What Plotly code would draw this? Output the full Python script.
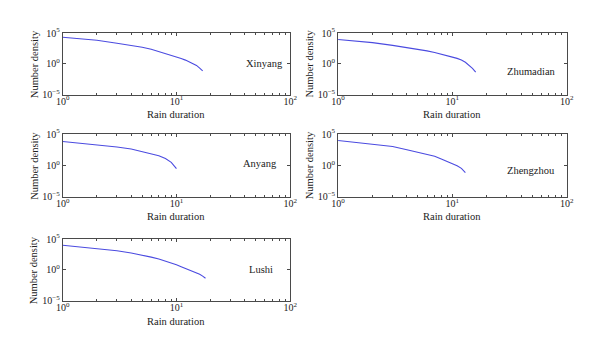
import plotly.graph_objects as go

stations = ["Xinyang", "Zhumadian", "Anyang", "Zhengzhou", "Lushi"]

xinyang_dur = list(range(1, 18))
xinyang_den = [20900, 6600, 2240, 1050, 480, 230, 100, 50, 25, 12.3, 7.1, 4.0, 2.04, 1.0, 0.56, 0.2, 0.071]

zhumadian_dur = list(range(1, 17))
zhumadian_den = [9100, 2750, 1000, 457, 224, 126, 71, 40, 22.4, 12.3, 7.6, 4.3, 1.78, 0.63, 0.18, 0.045]

anyang_dur = list(range(1, 11))
anyang_den = [6600, 2000, 890, 417, 158, 79, 35, 12.6, 3.2, 0.32]

zhengzhou_dur = list(range(1, 14))
zhengzhou_den = [9550, 2820, 1070, 316, 126, 54, 29, 11, 4.8, 2.04, 0.89, 0.34, 0.071]

lushi_dur = list(range(1, 19))
lushi_den = [10000, 3160, 1350, 575, 282, 120, 59, 29, 12.6, 6.8, 3.3, 1.8, 1.0, 0.55, 0.34, 0.2, 0.1, 0.045]

x_tickvals = [1, 10, 100]
x_ticktext = ["10<sup>0</sup>", "10<sup>1</sup>", "10<sup>2</sup>"]
y_tickvals = [1e-5, 1, 1e5]
y_ticktext = ["10<sup>\u22125</sup>", "10<sup>0</sup>", "10<sup>5</sup>"]
x_title = "Rain duration"
y_title = "Number density"

series = [
    (xinyang_dur, xinyang_den),
    (zhumadian_dur, zhumadian_den),
    (anyang_dur, anyang_den),
    (zhengzhou_dur, zhengzhou_den),
    (lushi_dur, lushi_den),
]

W, H = 600, 354
# pixel boxes: (left, right, top, bottom)
boxes = [
    (57, 290, 27, 91),
    (339, 573, 27, 91),
    (57, 290, 132, 197),
    (339, 573, 132, 197),
    (57, 290, 241, 305),
]
label_pos = [(1.77, 0.0), (1.69, -1.25), (1.73, 0.3), (1.69, -0.85), (1.745, 0.0)]

FONT = "Liberation Serif, Times New Roman, serif"
AX = "#4a4a4a"
TXT = "#222"

fig = go.Figure()
annotations = []
for i, ((d, v), (l, r, t, b), name, lp) in enumerate(zip(series, boxes, stations, label_pos)):
    n = "" if i == 0 else str(i + 1)
    xa, ya = "x" + n, "y" + n
    fig.add_trace(go.Scatter(x=d, y=v, mode="lines", xaxis=xa, yaxis=ya,
                             line=dict(color="#4b4be0", width=1.1), showlegend=False))
    common = dict(type="log", showline=True, linecolor=AX, linewidth=1, mirror="allticks",
                  ticks="inside", ticklen=3, tickcolor=AX, showgrid=False, zeroline=False,
                  tickfont=dict(family=FONT, size=10, color=TXT))
    fig.layout["xaxis" + n] = dict(common, domain=[l / W, r / W], anchor=ya,
                                   range=[0, 2], tickvals=x_tickvals, ticktext=x_ticktext,
                                   ticklabelstandoff=-3,
                                   minor=dict(ticks="inside", ticklen=2, tickcolor=AX, dtick="D1"))
    fig.layout["yaxis" + n] = dict(common, domain=[1 - b / H, 1 - t / H], anchor=xa,
                                   range=[-5, 5], tickvals=y_tickvals, ticktext=y_ticktext)
    annotations.append(dict(x=lp[0], y=lp[1], xref=xa, yref=ya, text=name, showarrow=False,
                            font=dict(family=FONT, size=10.5, color=TXT)))
    annotations.append(dict(x=(l + r) / 2 / W, y=1 - (b + 21) / H, xref="paper", yref="paper",
                            text=x_title, showarrow=False, xanchor="center", yanchor="middle",
                            font=dict(family=FONT, size=10.5, color=TXT)))
    annotations.append(dict(x=(l - 29) / W, y=1 - (t + b) / 2 / H, xref="paper", yref="paper",
                            text=y_title, showarrow=False, textangle=-90,
                            xanchor="center", yanchor="middle",
                            font=dict(family=FONT, size=10.5, color=TXT)))

fig.update_layout(width=W, height=H, margin=dict(l=0, r=0, t=0, b=0),
                  plot_bgcolor="white", paper_bgcolor="white", annotations=annotations)
fig.write_html("out.html")
